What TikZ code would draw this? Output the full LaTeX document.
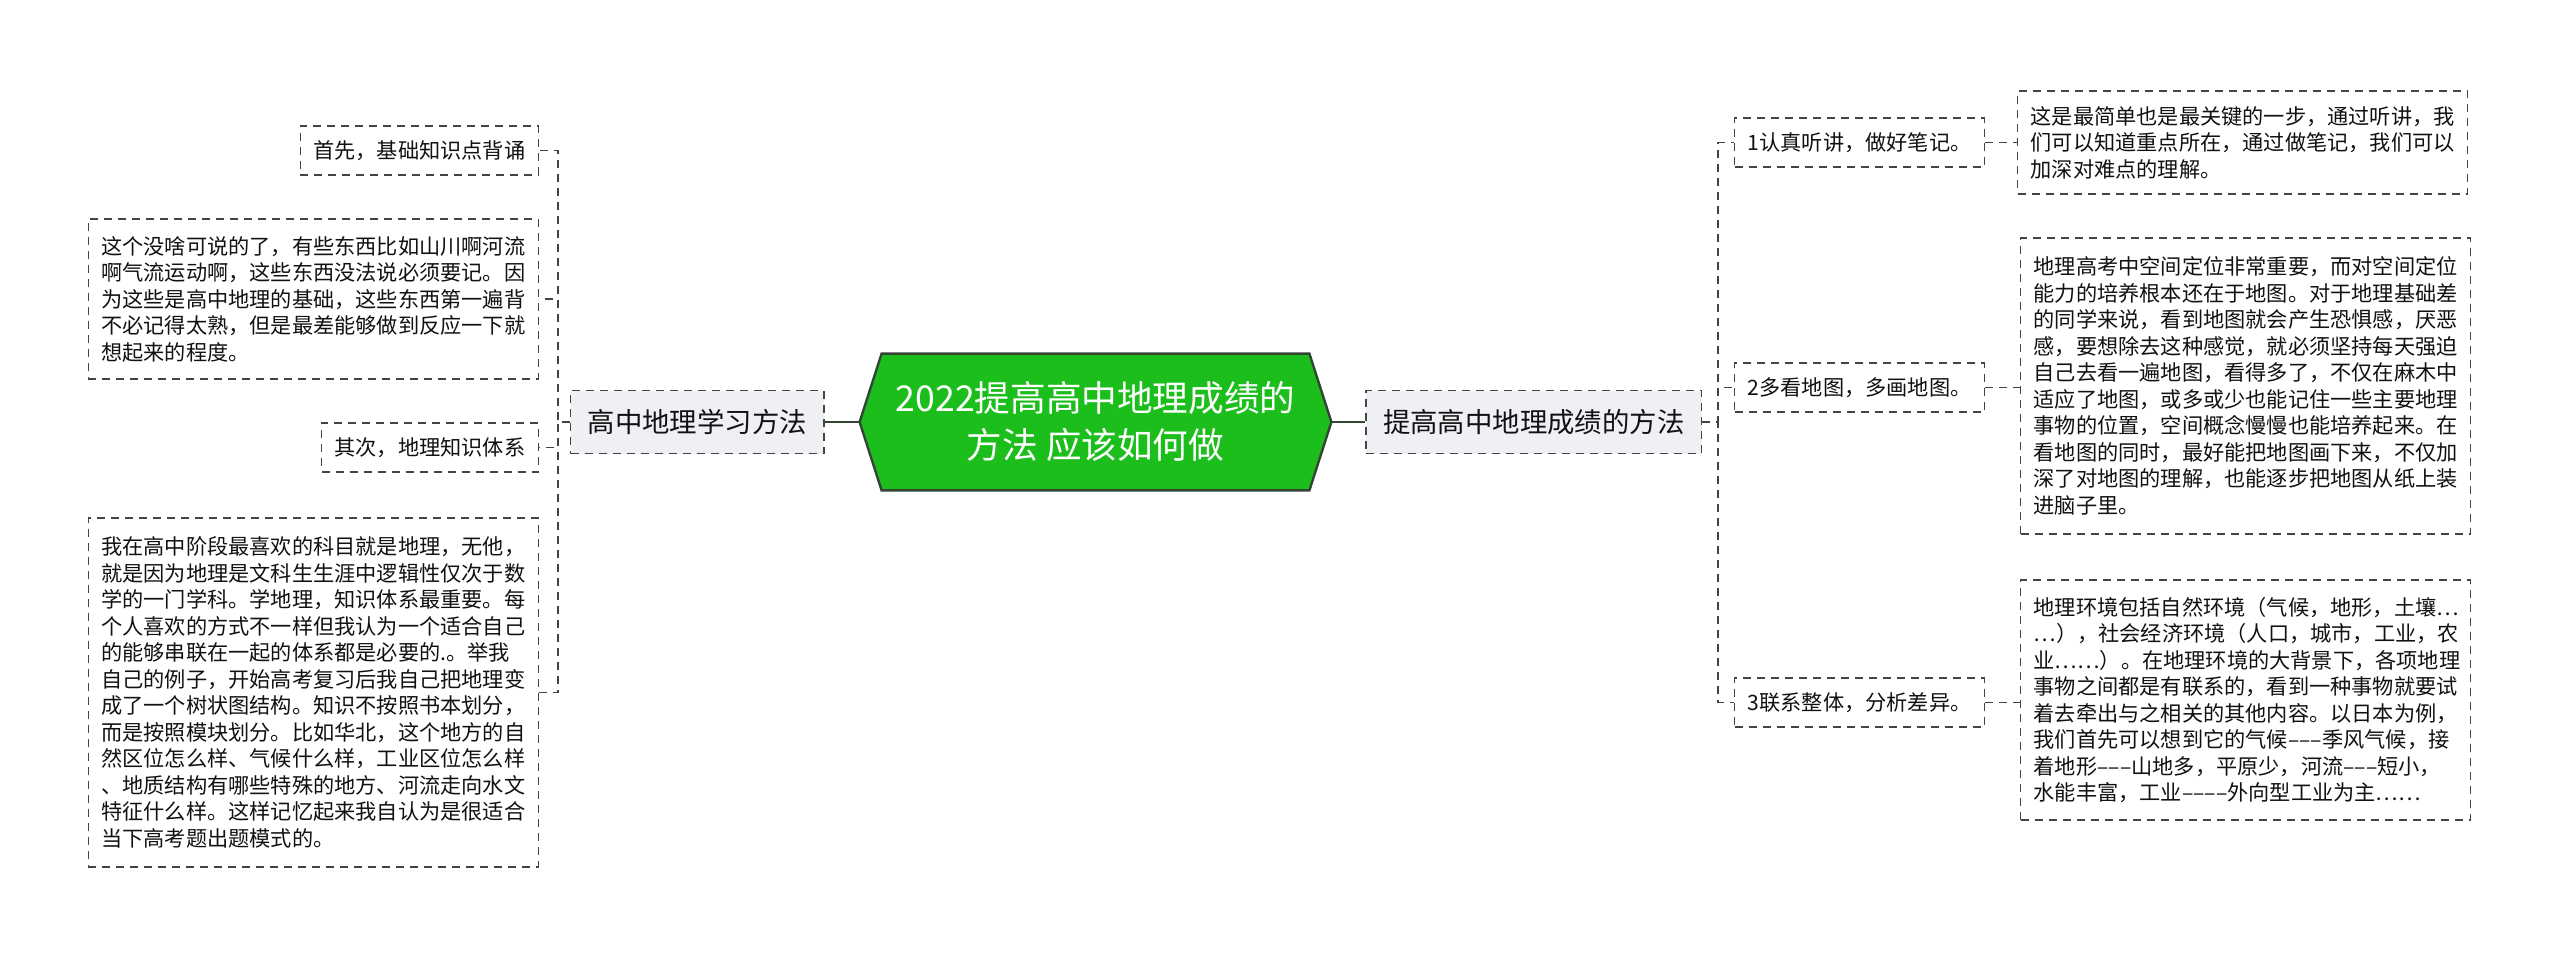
\documentclass[tikz,border=0pt]{standalone}
\usepackage{fontspec}
\setmainfont{Noto Sans CJK SC}
\usepackage{xcolor}
\usepackage{tikz}
\usetikzlibrary{positioning, backgrounds}

\definecolor{rootgreen}{HTML}{1CBE1C}
\definecolor{rootline}{HTML}{354535}
\definecolor{boxline}{HTML}{444444}
\definecolor{branchfill}{HTML}{EEF0F4}
\definecolor{textc}{HTML}{111111}

\tikzset{
  dashline/.style={dash pattern=on 4pt off 3pt},
  leaf/.style={draw=boxline, line width=0.7pt, dashline, fill=white, text=textc,
    font=\fontsize{10.6}{13.25}\selectfont, align=left,
    inner xsep=6.5pt, inner ysep=4pt, minimum height=24.5pt},
  note/.style={leaf, text width=212pt},
  branch/.style={leaf, fill=branchfill, font=\fontsize{13.7}{16}\selectfont,
    minimum height=31.5pt, inner xsep=8.5pt},
  link/.style={draw=boxline, line width=0.6pt, dashline},
  trunk/.style={draw=rootline, line width=1.2pt},
}

\begin{document}
\begin{tikzpicture}[x=0.5pt, y=-0.5pt]
        \useasboundingbox (0,0) rectangle (2560,960);
        \node[text=white, font=\fontsize{17.8}{23.5}\selectfont, align=center,
            minimum width=235.5pt, minimum height=68pt] (root) at (1095.5,422)
            {2022提高高中地理成绩的\\方法 应该如何做};
        \begin{scope}[on background layer]
        \draw[trunk, fill=rootgreen] (root.west) -- ([xshift=11pt]root.north west)
            -- ([xshift=-11pt]root.north east) -- (root.east)
            -- ([xshift=-11pt]root.south east) -- ([xshift=11pt]root.south west) -- cycle;
        \end{scope}
        \node[branch, left=17.5pt of root] (lmain) {高中地理学习方法};
        \node[branch, right=17pt of root] (rmain) {提高高中地理成绩的方法};
%	left side
        \node[leaf, anchor=east] (l1) at (539,150.5) {首先，基础知识点背诵};
        \node[note, anchor=east, minimum height=80pt] (l2) at (539,299)
            {这个没啥可说的了，有些东西比如山川啊河流\\啊气流运动啊，这些东西没法说必须要记。因\\为这些是高中地理的基础，这些东西第一遍背\\不必记得太熟，但是最差能够做到反应一下就\\想起来的程度。};
        \node[leaf, anchor=east] (l3) at (539,447.5) {其次，地理知识体系};
        \node[note, anchor=east, minimum height=174.5pt] (l4) at (539,692.5)
            {我在高中阶段最喜欢的科目就是地理，无他，\\就是因为地理是文科生生涯中逻辑性仅次于数\\学的一门学科。学地理，知识体系最重要。每\\个人喜欢的方式不一样但我认为一个适合自己\\的能够串联在一起的体系都是必要的.。举我\\自己的例子，开始高考复习后我自己把地理变\\成了一个树状图结构。知识不按照书本划分，\\而是按照模块划分。比如华北，这个地方的自\\然区位怎么样、气候什么样，工业区位怎么样\\、地质结构有哪些特殊的地方、河流走向水文\\特征什么样。这样记忆起来我自认为是很适合\\当下高考题出题模式的。};
%	right side
        \node[leaf, anchor=west] (r1) at (1734,142.5) {1认真听讲，做好笔记。};
        \node[leaf, anchor=west] (r2) at (1734,387.5) {2多看地图，多画地图。};
        \node[leaf, anchor=west] (r3) at (1734,702.5) {3联系整体，分析差异。};
        \node[note, anchor=west, minimum height=51.5pt] (n1) at (2017,142.5)
            {这是最简单也是最关键的一步，通过听讲，我\\们可以知道重点所在，通过做笔记，我们可以\\加深对难点的理解。};
        \node[note, anchor=west, minimum height=148pt] (n2) at (2020,386)
            {地理高考中空间定位非常重要，而对空间定位\\能力的培养根本还在于地图。对于地理基础差\\的同学来说，看到地图就会产生恐惧感，厌恶\\感，要想除去这种感觉，就必须坚持每天强迫\\自己去看一遍地图，看得多了，不仅在麻木中\\适应了地图，或多或少也能记住一些主要地理\\事物的位置，空间概念慢慢也能培养起来。在\\看地图的同时，最好能把地图画下来，不仅加\\深了对地图的理解，也能逐步把地图从纸上装\\进脑子里。};
        \node[note, anchor=west, minimum height=120pt] (n3) at (2020,700)
            {地理环境包括自然环境（气候，地形，土壤…\\…），社会经济环境（人口，城市，工业，农\\业……）。在地理环境的大背景下，各项地理\\事物之间都是有联系的，看到一种事物就要试\\着去牵出与之相关的其他内容。以日本为例，\\我们首先可以想到它的气候–––季风气候，接\\着地形–––山地多，平原少，河流–––短小，\\水能丰富，工业––––外向型工业为主……};
%	
        \draw[trunk] (lmain.east) -- (root.west);
        \draw[trunk] (root.east) -- (rmain.west);
        \coordinate (lj) at (558,422);
        \coordinate (rj) at (1718,422);
        \foreach \n in {l1,l2,l3,l4}
            \draw[link] (lmain.west) -- (lj) |- (\n.east);
        \foreach \n in {r1,r2,r3}
            \draw[link] (rmain.east) -- (rj) |- (\n.west);
        \foreach \a/\b in {r1/n1,r2/n2,r3/n3}
            \draw[link] (\a.east) -- (\a.east -| \b.west);
\end{tikzpicture}
\end{document}
